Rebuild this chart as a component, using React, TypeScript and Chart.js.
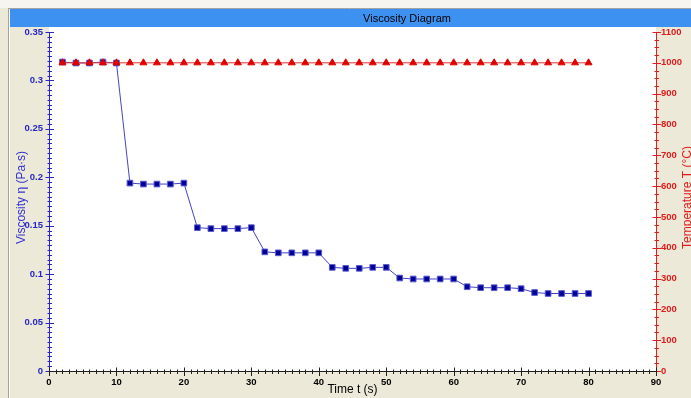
import { useEffect, useRef } from "react";
import { Chart, registerables } from "chart.js";

Chart.register(...registerables);

// Sampling times (s)
const times = [
  2, 4, 6, 8, 10, 12, 14, 16, 18, 20,
  22, 24, 26, 28, 30, 32, 34, 36, 38, 40,
  42, 44, 46, 48, 50, 52, 54, 56, 58, 60,
  62, 64, 66, 68, 70, 72, 74, 76, 78, 80,
];

// Viscosity η (Pa·s)
const viscosity = [
  0.319, 0.318, 0.318, 0.319, 0.318,
  0.194, 0.193, 0.193, 0.193, 0.194,
  0.148, 0.147, 0.147, 0.147, 0.148,
  0.123, 0.122, 0.122, 0.122, 0.122,
  0.107, 0.106, 0.106, 0.107, 0.107,
  0.096, 0.095, 0.095, 0.095, 0.095,
  0.087, 0.086, 0.086, 0.086, 0.085,
  0.081, 0.080, 0.080, 0.080, 0.080,
];

// Temperature T (°C)
const temperature = [
  1000, 1000, 1000, 1000, 1000, 1000, 1000, 1000, 1000, 1000,
  1000, 1000, 1000, 1000, 1000, 1000, 1000, 1000, 1000, 1000,
  1000, 1000, 1000, 1000, 1000, 1000, 1000, 1000, 1000, 1000,
  1000, 1000, 1000, 1000, 1000, 1000, 1000, 1000, 1000, 1000,
];

const chartTitle = "Viscosity Diagram";
const xTitle = "Time t (s)";
const leftTitle = "Viscosity η (Pa·s)";
const rightTitle = "Temperature T (°C)";

const W = 691;
const H = 398;

const BLUE_AXIS = "#2626c4";
const RED_AXIS = "#e01c1c";
const PANEL = "#ece9d8";
const BAR = "#3d91f0";
const TICK_FONT = { family: "'Liberation Sans Narrow', 'Liberation Sans', Arial, sans-serif", size: 9.5, weight: "bold" as const };

function hLine(ctx: CanvasRenderingContext2D, x1: number, x2: number, y: number) {
  ctx.beginPath();
  ctx.moveTo(x1, y);
  ctx.lineTo(x2, y);
  ctx.stroke();
}
function vLine(ctx: CanvasRenderingContext2D, x: number, y1: number, y2: number) {
  ctx.beginPath();
  ctx.moveTo(x, y1);
  ctx.lineTo(x, y2);
  ctx.stroke();
}

// Window frame, caption bar and white plotting field
const framePlugin = {
  id: "frame",
  beforeDraw(chart: any) {
    const { ctx, chartArea } = chart;
    ctx.save();
    ctx.fillStyle = PANEL;
    ctx.fillRect(0, 0, W, H);
    ctx.fillStyle = "#f6f5f0";
    ctx.fillRect(0, 0, W, 8);
    ctx.lineWidth = 1;
    ctx.strokeStyle = "#a3a3a3";
    hLine(ctx, 8, W, 8.5);
    vLine(ctx, 8.5, 8, H);
    ctx.strokeStyle = "#ffffff";
    vLine(ctx, 9.5, 9, H);
    ctx.fillStyle = BAR;
    ctx.fillRect(10, 9, W - 10, 18);
    ctx.fillStyle = "#ffffff";
    ctx.fillRect(chartArea.left, 27, chartArea.right - chartArea.left, chartArea.bottom - 27);
    ctx.restore();
  },
};

// Axis lines with crossing major / minor tick marks
const axesPlugin = {
  id: "axesTicks",
  beforeDatasetsDraw(chart: any) {
    const { ctx, chartArea } = chart;
    const { left, right, top, bottom } = chartArea;
    const { x, y, y1 } = chart.scales;
    ctx.save();
    ctx.lineWidth = 1;

    // left viscosity axis
    ctx.strokeStyle = BLUE_AXIS;
    vLine(ctx, left + 0.5, top, bottom);
    for (let i = 0; i <= 70; i++) {
      const p = Math.round(y.getPixelForValue(i * 0.005)) + 0.5;
      const len = i % 10 === 0 ? 4 : 2;
      hLine(ctx, left - len + 0.5, left + len + 1, p);
    }

    // right temperature axis
    ctx.strokeStyle = RED_AXIS;
    vLine(ctx, right + 0.5, top, bottom);
    for (let i = 0; i <= 44; i++) {
      const p = Math.round(y1.getPixelForValue(i * 25)) + 0.5;
      const len = i % 4 === 0 ? 4 : 2;
      hLine(ctx, right - len + 0.5, right + len + 1, p);
    }

    // time axis
    ctx.strokeStyle = "#202020";
    hLine(ctx, left, right + 1, bottom + 0.5);
    for (let i = 0; i <= 90; i++) {
      const p = Math.round(x.getPixelForValue(i)) + 0.5;
      const len = i % 10 === 0 ? 4 : 2;
      vLine(ctx, p, bottom - len + 0.5, bottom + len + 1);
    }
    ctx.restore();
  },
};

// Caption and axis titles
const titlesPlugin = {
  id: "titles",
  afterDraw(chart: any) {
    const { ctx, chartArea } = chart;
    const midY = (chartArea.top + chartArea.bottom) / 2 - 4;
    ctx.save();
    ctx.textAlign = "center";
    ctx.textBaseline = "middle";

    ctx.fillStyle = "#000000";
    ctx.font = "11px 'Liberation Sans', Arial, sans-serif";
    ctx.fillText(chartTitle, 407, 18.5);

    ctx.font = "12px 'Liberation Sans', Arial, sans-serif";
    ctx.fillText(xTitle, (chartArea.left + chartArea.right) / 2, 390);

    ctx.save();
    ctx.translate(22, midY);
    ctx.rotate(-Math.PI / 2);
    ctx.fillStyle = "#3030d0";
    ctx.fillText(leftTitle, 0, 0);
    ctx.restore();

    ctx.save();
    ctx.translate(688, midY);
    ctx.rotate(-Math.PI / 2);
    ctx.fillStyle = RED_AXIS;
    ctx.fillText(rightTitle, 0, 0);
    ctx.restore();

    ctx.restore();
  },
};

export default function App() {
  const canvasRef = useRef<HTMLCanvasElement | null>(null);

  useEffect(() => {
    document.body.style.margin = "0";
    const canvas = canvasRef.current;
    if (!canvas) return;

    const chart = new Chart(canvas, {
      type: "line",
      data: {
        datasets: [
          {
            label: "Temperature",
            data: times.map((t, i) => ({ x: t, y: temperature[i] })),
            yAxisID: "y1",
            borderColor: "#e23030",
            borderWidth: 1,
            backgroundColor: "#e00000",
            pointStyle: "triangle",
            pointRadius: 4,
            pointBorderColor: "#e00000",
            pointBorderWidth: 1,
            order: 0,
          },
          {
            label: "Viscosity",
            data: times.map((t, i) => ({ x: t, y: viscosity[i] })),
            yAxisID: "y",
            borderColor: "#4444c4",
            borderWidth: 1,
            backgroundColor: "#000099",
            pointStyle: "rect",
            pointRadius: 4,
            pointBorderColor: "#5c5cd0",
            pointBorderWidth: 1,
            order: 1,
          },
        ],
      },
      options: {
        responsive: false,
        animation: false,
        devicePixelRatio: 1,
        layout: { padding: { top: 32, left: 0, right: 0, bottom: 0 } },
        plugins: {
          legend: { display: false },
          tooltip: { enabled: false },
          title: { display: false },
        },
        scales: {
          x: {
            type: "linear",
            min: 0,
            max: 90,
            grid: { display: false, drawTicks: false },
            border: { display: false },
            ticks: {
              stepSize: 10,
              autoSkip: false,
              maxRotation: 0,
              padding: 6,
              color: "#000000",
              font: TICK_FONT,
              callback: (v: any) => String(v),
            },
            afterFit: (s: any) => {
              s.height = 27;
            },
          },
          y: {
            type: "linear",
            position: "left",
            min: 0,
            max: 0.35,
            grid: { display: false, drawTicks: false },
            border: { display: false },
            ticks: {
              stepSize: 0.05,
              padding: 6,
              color: BLUE_AXIS,
              font: TICK_FONT,
              callback: (v: any) => String(Number(Number(v).toFixed(2))),
            },
            afterFit: (s: any) => {
              s.width = 49;
            },
          },
          y1: {
            type: "linear",
            position: "right",
            min: 0,
            max: 1100,
            grid: { display: false, drawTicks: false },
            border: { display: false },
            ticks: {
              stepSize: 100,
              padding: 5,
              color: RED_AXIS,
              font: TICK_FONT,
              callback: (v: any) => String(Math.round(Number(v))),
            },
            afterFit: (s: any) => {
              s.width = 35;
            },
          },
        },
      },
      plugins: [framePlugin, axesPlugin, titlesPlugin],
    });

    return () => chart.destroy();
  }, []);

  return (
    <div style={{ position: "absolute", left: 0, top: 0, width: W, height: H }}>
      <canvas ref={canvasRef} width={W} height={H} style={{ display: "block", width: W, height: H }} />
    </div>
  );
}
